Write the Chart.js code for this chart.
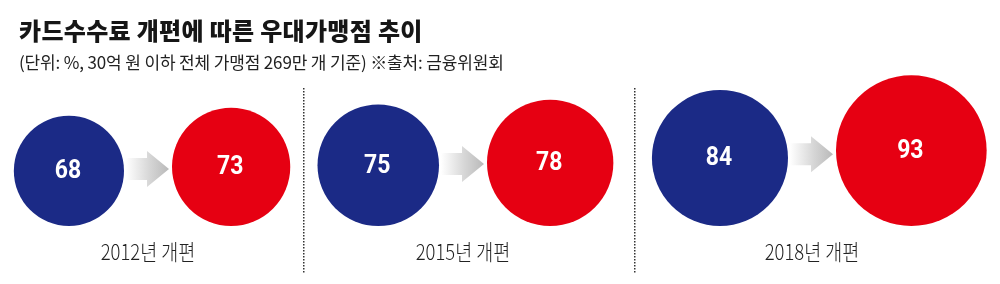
<!DOCTYPE html>
<html><head><meta charset="utf-8">
<script src="https://cdn.jsdelivr.net/npm/chart.js@4/dist/chart.umd.min.js"></script>
<style>
html,body{margin:0;padding:0;background:#fff;}
#wrap{position:relative;width:1000px;height:284px;overflow:hidden;}
#title{position:absolute;left:19px;top:18px;font:900 24px "Noto Sans CJK KR";color:#161616;letter-spacing:0.3px;white-space:nowrap;line-height:1;}
#sub{position:absolute;left:19px;top:53px;font:400 17px "Noto Sans CJK KR";color:#222;letter-spacing:-0.15px;white-space:nowrap;line-height:1;}
canvas{position:absolute;left:0;top:0;}
</style></head><body>
<div id="wrap"><canvas id="c" width="1000" height="284"></canvas>
<div id="title">카드수수료 개편에 따른 우대가맹점 추이</div>
<div id="sub">(단위: %, 30억 원 이하 전체 가맹점 269만 개 기준) ※출처: 금융위원회</div></div>
<script>
// ---- data ----
const periods = ['2012년 개편', '2015년 개편', '2018년 개편'];
const beforeShare = [68, 75, 84];
const afterShare = [73, 78, 93];

// ---- layout (pixel-space scale) ----
const W = 1000, H = 284;
const groupCenters = [148, 463, 812];
const separators = [303, 634];
const pxPerPoint = 0.81;   // bubble radius per % point
const pairGap = 48;        // gap between the two bubbles of a pair
const baseline = 58;       // bubbles sit on this line (from bottom)
const labelY = 32;         // period label centre (from bottom)

const rad = v => v * pxPerPoint;
const beforePts = beforeShare.map((v, i) => ({x: groupCenters[i] - pairGap / 2 - rad(v), y: baseline + rad(v), r: rad(v), v}));
const afterPts = afterShare.map((v, i) => ({x: groupCenters[i] + pairGap / 2 + rad(v), y: baseline + rad(v), r: rad(v), v}));
// bubble charts pad the chart area by the largest radius; compensate so 1 unit = 1 px
const pad = Math.max(...beforeShare, ...afterShare) * pxPerPoint;

const decor = {
  id: 'decor',
  beforeDatasetsDraw(chart) {
    const {ctx, scales: {x, y}} = chart;
    ctx.save();
    // dotted separators
    ctx.fillStyle = '#333';
    separators.forEach(s => {
      const px = Math.round(x.getPixelForValue(s));
      for (let py = y.getPixelForValue(196); py < y.getPixelForValue(12); py += 3) {
        ctx.fillRect(px, Math.round(py), 1.5, 1.5);
      }
    });
    // arrows
    groupCenters.forEach((gc, i) => {
      const cx = x.getPixelForValue(gc);
      const cy = (y.getPixelForValue(beforePts[i].y) + y.getPixelForValue(afterPts[i].y)) / 2;
      const x0 = cx - 22, xm = cx - 1, x1 = cx + 21;
      const g = ctx.createLinearGradient(x0, 0, x1, 0);
      g.addColorStop(0, 'rgba(255,255,255,1)');
      g.addColorStop(0.55, '#d6d6d6');
      g.addColorStop(1, '#b9b9b9');
      ctx.fillStyle = g;
      ctx.beginPath();
      ctx.moveTo(x0, cy - 11);
      ctx.lineTo(xm, cy - 11);
      ctx.lineTo(xm, cy - 18);
      ctx.lineTo(x1, cy);
      ctx.lineTo(xm, cy + 18);
      ctx.lineTo(xm, cy + 11);
      ctx.lineTo(x0, cy + 11);
      ctx.closePath();
      ctx.fill();
    });
    // period labels
    ctx.fillStyle = '#222';
    ctx.font = '300 22px "Noto Sans CJK KR"';
    ctx.textAlign = 'center';
    ctx.textBaseline = 'middle';
    periods.forEach((p, i) => {
      ctx.save();
      ctx.translate(x.getPixelForValue(groupCenters[i]), y.getPixelForValue(labelY));
      ctx.scale(0.84, 1);
      ctx.fillText(p, 0, 0);
      ctx.restore();
    });
    ctx.restore();
  },
  afterDatasetsDraw(chart) {
    const {ctx} = chart;
    ctx.fillStyle = '#fff';
    ctx.font = 'bold 25px Roboto, "Liberation Sans", sans-serif';
    ctx.textAlign = 'center';
    ctx.textBaseline = 'middle';
    chart.data.datasets.forEach((ds, di) => {
      chart.getDatasetMeta(di).data.forEach((el, j) => {
        ctx.save();
        ctx.translate(el.x - 1, el.y + 1);
        ctx.scale(0.92, 1);
        ctx.fillText(String(ds.data[j].v), 0, 0);
        ctx.restore();
      });
    });
  }
};

new Chart(document.getElementById('c'), {
  type: 'bubble',
  data: {
    datasets: [
      {label: '개편 전', data: beforePts, backgroundColor: '#1b2a86', borderWidth: 0, hoverBorderWidth: 0, clip: false},
      {label: '개편 후', data: afterPts, backgroundColor: '#e60012', borderWidth: 0, hoverBorderWidth: 0, clip: false}
    ]
  },
  options: {
    responsive: false,
    animation: false,
    devicePixelRatio: 1,
    layout: {padding: 0},
    events: [],
    plugins: {legend: {display: false}, tooltip: {enabled: false}},
    scales: {
      x: {type: 'linear', min: pad, max: W - pad, display: false},
      y: {type: 'linear', min: pad, max: H - pad, display: false}
    }
  },
  plugins: [decor]
});
</script>
</body></html>
